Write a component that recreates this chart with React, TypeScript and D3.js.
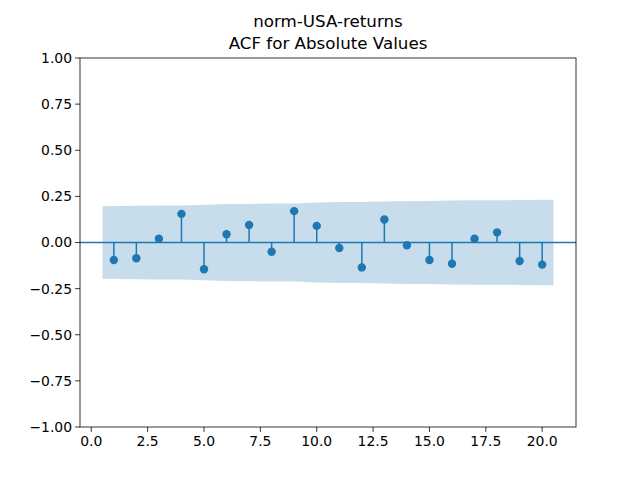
import { useMemo } from 'react';
import * as d3 from 'd3';

const lags = [1, 2, 3, 4, 5, 6, 7, 8, 9, 10, 11, 12, 13, 14, 15, 16, 17, 18, 19, 20];
const acfValues = [
  -0.095, -0.085, 0.02, 0.155, -0.145, 0.045, 0.095, -0.05, 0.17, 0.09,
  -0.03, -0.135, 0.125, -0.015, -0.095, -0.115, 0.02, 0.055, -0.1, -0.12,
];
// half-width of the confidence band at each lag
const bandHalf = [
  0.197, 0.199, 0.2, 0.2, 0.205, 0.209, 0.209, 0.211, 0.212, 0.217,
  0.219, 0.219, 0.222, 0.225, 0.225, 0.227, 0.229, 0.229, 0.23, 0.232,
];
const xTicks = [0, 2.5, 5, 7.5, 10, 12.5, 15, 17.5, 20];
const yTicks = [-1, -0.75, -0.5, -0.25, 0, 0.25, 0.5, 0.75, 1];
const titleLines = ['norm-USA-returns', 'ACF for Absolute Values'];

const BLUE = '#1f77b4';
const FONT = 'DejaVu Sans, sans-serif';

export default function App() {
  const width = 640;
  const height = 480;
  const margin = { top: 58, right: 64, bottom: 53, left: 80 };
  const innerW = width - margin.left - margin.right;
  const innerH = height - margin.top - margin.bottom;

  const { x, y, bandPath } = useMemo(() => {
    const x = d3.scaleLinear().domain([-0.5, 21.5]).range([0, innerW]);
    const y = d3.scaleLinear().domain([-1, 1]).range([innerH, 0]);
    const bandX = lags.map((l, i) =>
      i === 0 ? l - 0.5 : i === lags.length - 1 ? l + 0.5 : l,
    );
    const area = d3
      .area<number>()
      .x((_, i) => x(bandX[i]))
      .y0((d) => y(-d))
      .y1((d) => y(d));
    return { x, y, bandPath: area(bandHalf) ?? '' };
  }, [innerW, innerH]);

  const fmtY = (v: number) => (v < 0 ? '\u2212' : '') + Math.abs(v).toFixed(2);

  return (
    <svg
      width={width}
      height={height}
      style={{ position: 'absolute', left: 0, top: 0, background: '#fff' }}
      fontFamily={FONT}
    >
      {titleLines.map((t, i) => (
        <text
          key={t}
          x={margin.left + innerW / 2}
          y={27 + i * 22}
          textAnchor="middle"
          fontSize={16.7}
          fill="#000"
        >
          {t}
        </text>
      ))}
      <g transform={`translate(${margin.left},${margin.top})`}>
        <path d={bandPath} fill={BLUE} fillOpacity={0.25} stroke="none" />
        <line x1={0} x2={innerW} y1={y(0)} y2={y(0)} stroke={BLUE} strokeWidth={1.5} />
        {lags.map((l, i) => (
          <g key={l}>
            <line
              x1={x(l)}
              x2={x(l)}
              y1={y(0)}
              y2={y(acfValues[i])}
              stroke={BLUE}
              strokeWidth={1.5}
            />
            <circle cx={x(l)} cy={y(acfValues[i])} r={4.2} fill={BLUE} />
          </g>
        ))}
        <rect x={0} y={0} width={innerW} height={innerH} fill="none" stroke="#000" strokeWidth={0.8} />
        {xTicks.map((t) => (
          <g key={t} transform={`translate(${x(t)},${innerH})`}>
            <line y1={0} y2={4.9} stroke="#000" strokeWidth={0.8} />
            <text y={19} textAnchor="middle" fontSize={13.9} fill="#000">
              {t.toFixed(1)}
            </text>
          </g>
        ))}
        {yTicks.map((t) => (
          <g key={t} transform={`translate(0,${y(t)})`}>
            <line x1={0} x2={-4.9} stroke="#000" strokeWidth={0.8} />
            <text x={-8} dy="0.35em" textAnchor="end" fontSize={13.9} fill="#000">
              {fmtY(t)}
            </text>
          </g>
        ))}
      </g>
    </svg>
  );
}
